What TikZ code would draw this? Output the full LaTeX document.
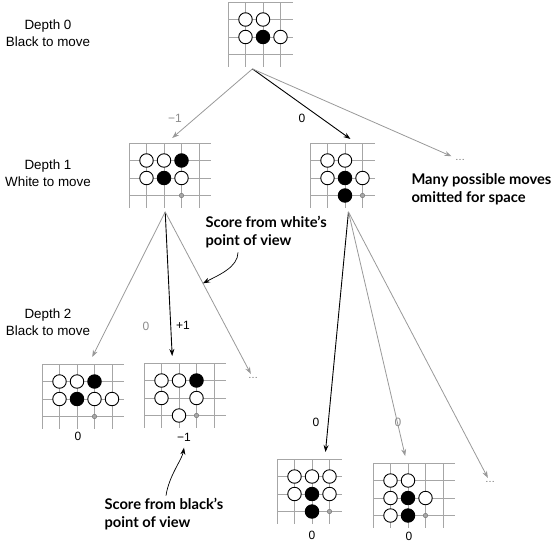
\documentclass[tikz,border=0pt]{standalone}
\usepackage{fontspec}
\setmainfont{Liberation Sans}
\newfontfamily\notefont{Lato}
\usetikzlibrary{arrows,arrows.meta,calc,positioning}

\def\gs{17.5}
\def\gext{12}

\tikzset{
  >={Stealth[length=7pt,width=5pt]},
  gridline/.style={draw=black!35, line width=0.7pt},
  wstone/.style={circle, draw=black, fill=white, line width=0.9pt, minimum size=13.5pt, inner sep=0pt},
  bstone/.style={wstone, fill=black},
  lastmove/.style={circle, draw=black!55, fill=black!35, minimum size=4.5pt, inner sep=0pt, line width=0.4pt},
  boardarea/.style={inner sep=0pt, anchor=north west},
  depthlabel/.style={align=center, font=\fontsize{13.4}{16.7}\selectfont},
  score/.style={font=\fontsize{12}{14}\selectfont},
  grayscore/.style={score, text=black!45},
  more/.style={font=\fontsize{10}{12}\selectfont, text=black!60},
  note/.style={align=left, anchor=west, font=\notefont\bfseries\fontsize{14.7}{18}\selectfont},
  move/.style={->, draw=black!40, line width=0.8pt},
  bestmove/.style={->, draw=black, line width=0.9pt},
}

% board: name, x, y, last column, white stones, black stones
\newcommand{\goboard}[6]{%
  \begin{scope}[shift={(#2,#3)}]
    \node[boardarea, minimum width={(#4*\gs+\gext)*1pt}, minimum height={(3*\gs+\gext)*1pt}] (#1) at (0,0) {};
    \foreach \c in {0,...,#4}
      \draw[gridline] (\c*\gs,0) -- (\c*\gs,3*\gs+\gext);
    \foreach \r in {0,...,3}
      \draw[gridline] (0,\r*\gs) -- (#4*\gs+\gext,\r*\gs);
    \foreach \c/\r in {#5}
      \node[wstone] at (\c*\gs,\r*\gs) {};
    \foreach \c/\r in {#6}
      \node[bstone] at (\c*\gs,\r*\gs) {};
  \end{scope}
}

\begin{document}
\begin{tikzpicture}[x=1pt,y=-1pt]
\useasboundingbox (0,0) rectangle (554,544);

% boards
\goboard{b0}{228}{2}{3}{1/1,2/1,1/2,3/2}{2/2}
\goboard{b1L}{129}{143}{4}{1/1,2/1,1/2,3/2}{3/1,2/2}
\goboard{b1R}{310}{143}{3}{1/1,2/1,1/2,3/2}{2/2,2/3}
\goboard{b2L}{42}{364}{4}{1/1,2/1,1/2,3/2,4/2}{3/1,2/2}
\goboard{b2M}{144}{363}{4}{1/1,2/1,1/2,3/2,2/3}{3/1}
\goboard{b3L}{277}{459}{3}{1/1,2/1,3/1,1/2,3/2}{2/2,2/3}
\goboard{b3R}{373}{463}{4}{1/1,2/1,1/2,3/2,1/3}{2/2,2/3}

\foreach \b in {b1L,b1R,b2L,b2M,b3L,b3R}
  \node[lastmove] at ($(\b.north west)+(3*\gs,3*\gs)$) {};

% depth labels
\node[depthlabel] (d0) at (48,33) {Depth 0\\Black to move};
\node[depthlabel] (d1) at (48,173) {Depth 1\\White to move};
\node[depthlabel] (d2) at (48,322) {Depth 2\\Black to move};

% omitted moves
\node[more] (more1) at (460,160) {\dots};
\node[more] (more2) at (253,378) {\dots};
\node[more] (more3) at (490,482) {\dots};

% scores under the boards
\node[score] (s2L) at (78,436) {0};
\node[score] (s2M) at (184,437) {−1};
\node[score] (s3L) at (312,535) {0};
\node[score] (s3R) at (409,536) {0};

% moves
\coordinate (b0out) at ([xshift=-8pt,yshift=-2pt]b0.south);
\coordinate (b1Lout) at ([xshift=-5pt,yshift=-4pt]b1L.south);
\coordinate (b1Rout) at ([xshift=6pt,yshift=-4pt]b1R.south);

\draw[move] (b0out) -- ([xshift=2pt,yshift=5pt]b1L.north);
\draw[bestmove] (b0out) -- ([xshift=8pt,yshift=4pt]b1R.north);
\draw[move] (b0out) -- (more1);
\node[grayscore] at (175,118) {−1};
\node[score] at (302,118) {0};

\draw[move] (b1Lout) -- ([xshift=9pt,yshift=7pt]b2L.north);
\draw[bestmove] (b1Lout) -- ([xshift=-13pt,yshift=7pt]b2M.north);
\draw[move] (b1Lout) -- (more2);
\node[grayscore] at (146,326) {0};
\node[score] at (183,325) {+1};

\draw[bestmove] (b1Rout) -- ([xshift=16pt,yshift=7pt]b3L.north);
\draw[move] (b1Rout) -- ([xshift=-9pt,yshift=7pt]b3R.north);
\draw[move] (b1Rout) -- (more3);
\node[score] at (316,422) {0};
\node[grayscore] at (398,422) {0};

% notes
\node[note] (many) at (408,189) {Many possible moves\\omitted for space};
\node[note] (whitenote) at (202,232) {Score from white’s\\point of view};
\node[note] (blacknote) at (101,514) {Score from black’s\\point of view};

\draw[->, line width=0.7pt] ([xshift=36pt,yshift=-1pt]whitenote.south west)
  .. controls +(0,15) and +(15,-8) .. ($(b1Lout)!0.43!(more2)$);
\draw[->, line width=0.7pt] ([xshift=65pt,yshift=-1pt]blacknote.north west)
  .. controls +(3,-20) and +(-2,12) .. ([yshift=-3pt]s2M.south);
\end{tikzpicture}
\end{document}
